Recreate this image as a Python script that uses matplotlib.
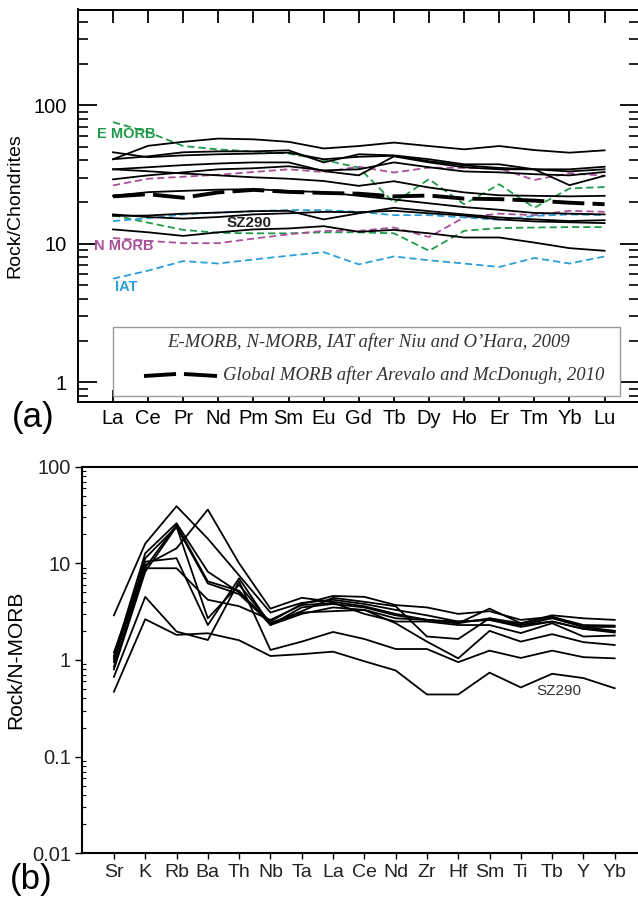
import matplotlib
matplotlib.use('Agg')
import matplotlib.pyplot as plt
from matplotlib.ticker import LogLocator, NullFormatter, FixedLocator, FixedFormatter
from matplotlib.patches import Rectangle
from matplotlib.lines import Line2D

plt.rcParams['font.family'] = ['Liberation Sans', 'DejaVu Sans']

# ---------------- (a) chondrite-normalised REE ----------------
ree = ['La', 'Ce', 'Pr', 'Nd', 'Pm', 'Sm', 'Eu', 'Gd', 'Tb', 'Dy', 'Ho', 'Er', 'Tm', 'Yb', 'Lu']

emorb_a = [75.7, 64.0, 50.8, 48.0, 46.4, 44.8, 40.3, 35.5, 19.8, 29.3, 19.3, 26.9, 18.2, 25.1, 25.7]
emorb_b = [16.1, 14.2, 12.6, 12.0, 11.9, 11.9, 12.1, 12.1, 11.9, 8.9, 12.4, 13.0, 13.1, 13.2, 13.2]
nmorb_a = [26.4, 29.5, 30.5, 31.5, 33.0, 34.5, 33.0, 36.0, 32.7, 35.5, 35.3, 35.0, 28.9, 32.3, 31.0]
nmorb_b = [11.0, 10.5, 10.1, 10.1, 10.9, 11.7, 12.4, 12.4, 13.1, 11.2, 15.5, 16.5, 16.1, 17.3, 17.0]
iat_a = [14.6, 15.3, 16.3, 16.8, 17.2, 17.5, 17.5, 17.0, 16.1, 16.1, 15.5, 14.9, 15.9, 16.3, 16.1]
iat_b = [5.6, 6.4, 7.5, 7.2, 7.7, 8.2, 8.7, 7.1, 8.1, 7.6, 7.2, 6.8, 7.9, 7.2, 8.1]
global_morb = [22.0, 22.8, 21.5, 23.5, 24.5, 23.7, 23.3, 23.0, 22.0, 22.3, 21.2, 21.0, 20.5, 19.8, 19.3]

ree_s1 = [40.8, 51.0, 54.5, 57.5, 56.8, 54.5, 48.8, 50.8, 53.8, 50.8, 48.1, 50.8, 47.5, 45.5, 47.3]
ree_s2 = [45.8, 42.2, 43.5, 44.3, 44.8, 45.5, 40.8, 42.5, 43.2, 39.5, 36.8, 35.3, 34.5, 34.5, 36.0]
ree_s3 = [40.8, 42.8, 45.8, 46.5, 46.5, 47.3, 38.7, 44.3, 43.5, 40.8, 37.5, 37.5, 34.5, 26.5, 31.0]
ree_s4 = [34.5, 35.7, 37.0, 38.0, 38.7, 38.7, 33.5, 31.2, 42.8, 38.7, 35.7, 34.5, 34.5, 33.3, 34.5]
ree_s5 = [34.5, 33.4, 32.2, 31.2, 30.2, 29.5, 28.4, 26.2, 28.3, 25.5, 23.5, 22.4, 22.2, 22.0, 22.2]
ree_s6 = [29.2, 31.2, 32.8, 34.5, 35.1, 36.3, 33.9, 34.5, 38.7, 35.7, 33.3, 32.8, 31.8, 31.2, 33.0]
ree_s7 = [22.2, 23.6, 24.1, 24.6, 24.8, 24.1, 23.6, 22.2, 20.9, 19.6, 18.4, 17.6, 16.7, 16.5, 16.3]
ree_s8 = [15.9, 16.0, 16.5, 16.8, 17.2, 17.3, 15.0, 16.6, 18.2, 17.2, 16.3, 15.5, 15.0, 14.6, 14.8]
ree_s9 = [16.3, 15.6, 15.2, 15.6, 16.3, 16.6, 17.0, 16.9, 17.3, 16.6, 16.0, 15.0, 14.5, 14.3, 14.1]
ree_sz290 = [12.7, 12.1, 11.4, 12.1, 12.7, 12.9, 13.4, 12.2, 12.6, 11.9, 11.1, 11.1, 10.2, 9.3, 8.9]

# ---------------- (b) N-MORB-normalised spider ----------------
spider = ['Sr', 'K', 'Rb', 'Ba', 'Th', 'Nb', 'Ta', 'La', 'Ce', 'Nd', 'Zr', 'Hf', 'Sm', 'Ti', 'Tb', 'Y', 'Yb']

sp_s1 = [2.9, 16.0, 39.0, 18.0, 7.5, 3.1, 3.9, 4.2, 3.8, 3.3, 2.9, 2.5, 2.6, 2.2, 2.5, 2.1, 2.0]
sp_s2 = [1.2, 9.6, 14.3, 36.0, 10.0, 3.4, 4.4, 4.0, 3.6, 3.0, 2.6, 2.4, 3.4, 2.4, 2.9, 2.7, 2.6]
sp_s3 = [1.1, 12.7, 26.0, 8.2, 5.0, 2.5, 3.8, 4.6, 4.5, 3.7, 3.5, 3.0, 3.2, 2.6, 2.8, 2.3, 2.27]
sp_s4 = [1.0, 11.3, 24.0, 6.2, 4.8, 2.4, 3.2, 4.4, 4.0, 3.6, 1.75, 1.65, 2.7, 2.3, 2.7, 2.2, 2.2]
sp_s5 = [0.95, 10.4, 11.3, 2.3, 7.0, 2.3, 3.0, 3.5, 3.3, 2.4, 1.55, 1.04, 2.0, 1.55, 1.85, 1.53, 1.43]
sp_s6 = [0.85, 8.9, 8.9, 4.2, 3.6, 2.6, 3.7, 3.9, 3.0, 2.5, 2.5, 2.3, 2.3, 1.9, 2.4, 1.75, 1.79]
sp_s7 = [0.8, 8.2, 24.0, 2.7, 6.0, 2.4, 3.1, 3.2, 3.3, 2.7, 2.6, 2.5, 2.6, 2.3, 2.5, 2.1, 1.92]
sp_s8 = [1.05, 9.0, 25.0, 6.5, 5.2, 2.3, 3.5, 3.8, 3.5, 2.9, 2.6, 2.4, 2.7, 2.4, 2.8, 2.2, 2.0]
sp_s9 = [0.67, 4.5, 1.97, 1.61, 6.5, 1.27, 1.55, 1.95, 1.65, 1.3, 1.3, 0.95, 1.25, 1.05, 1.25, 1.07, 1.04]
sp_sz290 = [0.47, 2.64, 1.82, 1.89, 1.6, 1.1, 1.15, 1.22, 0.97, 0.78, 0.44, 0.44, 0.74, 0.52, 0.72, 0.65, 0.51]

GREEN = '#1f9a4a'
MAGENTA = '#a8509a'
BLUE = '#2a9fd8'

W, H = 638, 900
fig = plt.figure(figsize=(W / 100, H / 100), dpi=100)

# ---------------- panel (a) ----------------
ax1 = fig.add_axes([78 / W, 1 - 402 / H, 561 / W, 392.5 / H])
ax1.set_yscale('log')
ax1.set_xlim(-0.997, 14.98)
ax1.set_ylim(0.72, 492)
xr = list(range(len(ree)))

for arr in [ree_s1, ree_s2, ree_s3, ree_s4, ree_s5, ree_s6, ree_s7, ree_s8, ree_s9, ree_sz290]:
    ax1.plot(xr, arr, color='black', lw=1.3, zorder=3)

for arr, c in [(emorb_a, GREEN), (emorb_b, GREEN), (nmorb_a, MAGENTA), (nmorb_b, MAGENTA),
               (iat_a, BLUE), (iat_b, BLUE)]:
    ax1.plot(xr, arr, color=c, lw=1.3, dashes=(4, 2.2), zorder=2)

ax1.plot(xr, global_morb, color='black', lw=2.8, dashes=(8.2, 2.1), zorder=4)

ax1.text(0.37, 61.8, 'E MORB', color=GREEN, fontsize=10.5, fontweight='bold', ha='center', va='center')
ax1.text(0.30, 9.64, 'N MORB', color=MAGENTA, fontsize=10.5, fontweight='bold', ha='center', va='center')
ax1.text(0.385, 4.85, 'IAT', color=BLUE, fontsize=10.5, fontweight='bold', ha='center', va='center')
ax1.text(3.89, 14.1, 'SZ290', color='#222222', fontsize=11, fontweight='bold', ha='center', va='center')

ax1.xaxis.set_major_locator(FixedLocator(xr))
ax1.xaxis.set_major_formatter(FixedFormatter(ree))
ax1.tick_params(axis='x', which='major', direction='in', length=9, width=1.3,
                top=True, bottom=True, labelsize=14.5, pad=5)
ax1.yaxis.set_major_locator(FixedLocator([1, 10, 100]))
ax1.yaxis.set_major_formatter(FixedFormatter(['1', '10', '100']))
ax1.yaxis.set_minor_locator(LogLocator(base=10, subs=[2, 3, 4, 5, 6, 7, 8, 9]))
ax1.yaxis.set_minor_formatter(NullFormatter())
ax1.tick_params(axis='y', which='major', direction='in', length=14, width=1.3,
                left=True, right=True, labelsize=14.5, pad=8)
ax1.tick_params(axis='y', which='minor', direction='in', length=7, width=1.2,
                left=True, right=True)
for s in ax1.spines.values():
    s.set_linewidth(1.4)
ax1.set_ylabel('Rock/Chondrites', fontsize=14, labelpad=7)

# legend box
fig.add_artist(Rectangle((113 / W, 1 - 396 / H), (620 - 113) / W, 69 / H,
                         transform=fig.transFigure, facecolor='white',
                         edgecolor='#9a9a9a', lw=1.0, zorder=5))
fig.text(369 / W, 1 - 342 / H, 'E-MORB, N-MORB, IAT after Niu and O\u2019Hara, 2009',
         family=['Liberation Serif', 'DejaVu Serif'], style='italic', fontsize=13.5,
         ha='center', va='center', color='#333333', zorder=6)
fig.add_artist(Line2D([144 / W, 176 / W], [1 - 376 / H, 1 - 374 / H], transform=fig.transFigure,
                      color='black', lw=2.8, solid_capstyle='butt', zorder=6))
fig.add_artist(Line2D([184 / W, 217 / W], [1 - 374 / H, 1 - 376 / H], transform=fig.transFigure,
                      color='black', lw=2.8, solid_capstyle='butt', zorder=6))
fig.text(223 / W, 1 - 375 / H, 'Global MORB after Arevalo and McDonugh, 2010',
         family=['Liberation Serif', 'DejaVu Serif'], style='italic', fontsize=13.5,
         ha='left', va='center', color='#333333', zorder=6)

fig.text(12 / W, 1 - 418 / H, '(a)', fontsize=25, ha='left', va='center')

# ---------------- panel (b) ----------------
ax2 = fig.add_axes([82 / W, 1 - 853.3 / H, 600 / W, 386.6 / H])
ax2.set_yscale('log')
ax2.set_ylim(0.01, 100)
ax2.set_xlim(-1.02, -1.02 + 600 / 31.3)
xs = list(range(len(spider)))
for arr in [sp_s1, sp_s2, sp_s3, sp_s4, sp_s5, sp_s6, sp_s7, sp_s8, sp_s9, sp_sz290]:
    ax2.plot(xs, arr, color='black', lw=1.3)

ax2.text(14.2, 0.478, 'SZ290', fontsize=11, color='#333333', ha='center', va='center')

ax2.xaxis.set_major_locator(FixedLocator(xs))
ax2.xaxis.set_major_formatter(FixedFormatter(spider))
ax2.tick_params(axis='x', which='major', direction='out', length=4, width=1.0,
                labelsize=14, labelcolor='#222222', pad=4)
ax2.yaxis.set_major_locator(FixedLocator([0.01, 0.1, 1, 10, 100]))
ax2.yaxis.set_major_formatter(FixedFormatter(['0.01', '0.1', '1', '10', '100']))
ax2.yaxis.set_minor_locator(LogLocator(base=10, subs=[2, 3, 4, 5, 6, 7, 8, 9]))
ax2.yaxis.set_minor_formatter(NullFormatter())
ax2.tick_params(axis='y', which='major', direction='out', length=5, width=1.0,
                labelsize=14.5, labelcolor='#222222', pad=3)
ax2.tick_params(axis='y', which='minor', direction='in', length=3, width=0.8)
for s in ax2.spines.values():
    s.set_linewidth(1.5)
ax2.set_ylabel('Rock/N-MORB', fontsize=15, labelpad=5)

fig.text(10 / W, 1 - 880 / H, '(b)', fontsize=25, ha='left', va='center')

fig.savefig('out.png', dpi=100)
